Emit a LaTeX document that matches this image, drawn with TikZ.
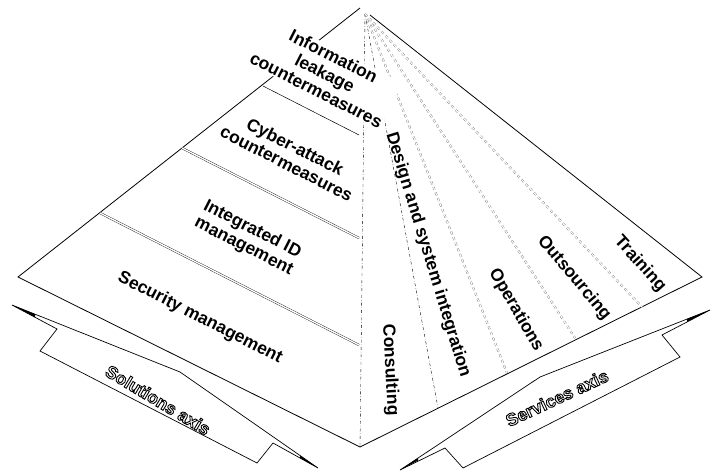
\documentclass[tikz,border=0pt]{standalone}
\usepackage{fontspec}
\setmainfont{Liberation Sans}
\newcommand{\outlined}[1]{\special{pdf:literal direct 1 Tr 0.9 w}#1\special{pdf:literal direct 0 Tr}}
\begin{document}
\begin{tikzpicture}[x=1pt, y=-1pt,
  every node/.style = {font=\bfseries\fontsize{17.5}{19}\selectfont,
    align=center, inner sep=1pt},
  edge/.style = {line width=0.8pt, line join=miter},
  band/.style = {line width=0.35pt, double, double distance=1.4pt},
  fan/.style = {black!60, dashed, line width=0.35pt, double, double distance=1.2pt},
  ribbon/.style = {line width=0.7pt, line join=miter},
  axislabel/.style = {font=\bfseries\fontsize{17.5}{19}\selectfont}]
  \useasboundingbox (0,0) rectangle (711,472);
  \coordinate (left) at (18,277);
  \coordinate (right) at (702,277);
  \coordinate (bottom) at (360,447);
  \coordinate (topL) at (360,8);
  \coordinate (top) at (365,14);
  \coordinate (topR) at (370,15);
  \draw[edge] (bottom) -- (left) -- (topL);
  \draw[edge] (topR) -- (right) -- (bottom);
  \draw[dashdotted, line width=0.4pt] (top) -- (bottom);
  \draw[line width=0.5pt] (263,86) -- (359,135);
  \draw[band] (182,148) -- (359,238);
  \draw[band] (100,213) -- (359,345);
  \draw[dashdotted, line width=0.4pt] (top) -- (438,408);
  \draw[fan] (top) -- (507,373);
  \draw[fan] (top) -- (575,338);
  \draw[fan] (top) -- (642,307);
  \coordinate (solA) at (12,305);
  \coordinate (solB) at (57,329);
  \coordinate (solC) at (40,351);
  \coordinate (solD) at (257,463);
  \coordinate (solE) at (273,443);
  \coordinate (solF) at (318,468);
  \coordinate (solG) at (180,372);
  \draw[ribbon] (solA) -- (solB) -- (solC) -- (solD) -- (solE) -- (solF)
    -- (solG) -- cycle;
  \fill (solA) -- (35,314.2) -- (35,317.3) -- cycle;
  \fill (solF) -- (300,455.4) -- (300,458) -- cycle;
  \coordinate (serA) at (710,310);
  \coordinate (serB) at (662,335);
  \coordinate (serC) at (680,357);
  \coordinate (serD) at (463,468);
  \coordinate (serE) at (445,448);
  \coordinate (serF) at (400,470);
  \coordinate (serG) at (540,377);
  \draw[ribbon] (serA) -- (serB) -- (serC) -- (serD) -- (serE) -- (serF)
    -- (serG) -- cycle;
  \fill (serA) -- (687,319) -- (687,322) -- cycle;
  \fill (serF) -- (418,458) -- (418,460.5) -- cycle;
  \node[rotate=-27, fill=white] (leakage) at (325,73)
    {Information\\leakage\\countermeasures};
  \node[rotate=-27] (cyber) at (291,155) {Cyber-attack\\countermeasures};
  \node[rotate=-27] (intid) at (248,238) {Integrated ID\\management};
  \node[rotate=-27] (secmgmt) at (200,318) {Security management};
  \node[rotate=-87] (consulting) at (390,370) {Consulting};
  \node[rotate=-73] (design) at (428,255) {Design and system integration};
  \node[rotate=-60] (operations) at (516,310) {Operations};
  \node[rotate=-50] (outsourcing) at (574,278) {Outsourcing};
  \node[rotate=-48] (training) at (640,264) {Training};
  \node[axislabel, rotate=-31] (solaxis) at (158,400)
    {\outlined{Solutions axis}};
  \node[axislabel, rotate=25] (seraxis) at (557,398)
    {\outlined{Services axis}};
\end{tikzpicture}
\end{document}
